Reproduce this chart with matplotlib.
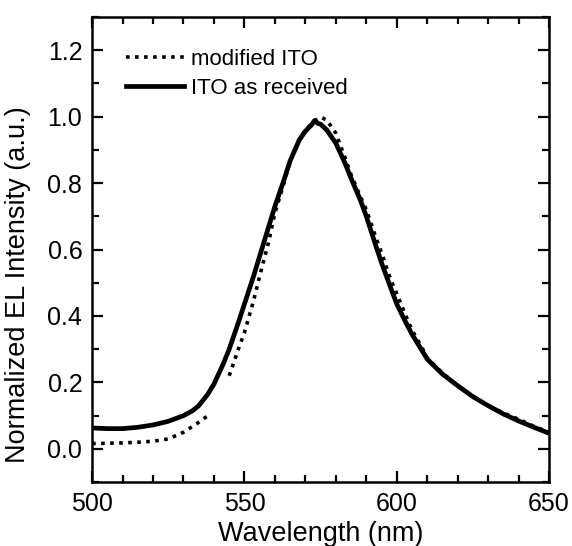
import numpy as np
import matplotlib
matplotlib.use("Agg")
import matplotlib.pyplot as plt
from matplotlib.ticker import MultipleLocator

plt.rcParams['font.family'] = ['Liberation Sans', 'DejaVu Sans']

# Data
wl_received = [500, 505, 510, 515, 520, 525, 530, 533, 535, 538, 540, 543, 545, 548, 550, 553,
               555, 558, 560, 563, 565, 568, 570, 572, 573, 574, 575, 577, 580, 583, 585, 588,
               590, 593, 595, 598, 600, 603, 605, 608, 610, 615, 620, 625, 630, 635, 640, 645, 650]
int_received = [0.063, 0.061, 0.061, 0.065, 0.072, 0.083, 0.10, 0.115, 0.13, 0.165, 0.195, 0.255,
                0.30, 0.38, 0.436, 0.52, 0.58, 0.67, 0.73, 0.81, 0.867, 0.93, 0.956, 0.975, 0.988,
                0.98, 0.977, 0.96, 0.92, 0.86, 0.814, 0.75, 0.70, 0.615, 0.56, 0.485, 0.436, 0.38,
                0.345, 0.30, 0.27, 0.225, 0.19, 0.157, 0.13, 0.105, 0.084, 0.065, 0.047]

wl_modified = [500, 505, 510, 515, 520, 525, 530, 535, 538, np.nan, 545, 548, 550, 553, 555, 558,
               560, 563, 565, 568, 570, 572, 573, 575, 577, 580, 583, 585, 588, 590, 593, 595,
               598, 600, 603, 605, 608, 610, 615, 620, 625, 630, 635, 640, 645, 650]
int_modified = [0.016, 0.017, 0.018, 0.02, 0.023, 0.03, 0.05, 0.08, 0.10, np.nan, 0.22, 0.30, 0.35,
                0.446, 0.52, 0.625, 0.71, 0.80, 0.867, 0.93, 0.96, 0.978, 0.987, 0.998, 0.99,
                0.95, 0.877, 0.825, 0.76, 0.72, 0.64, 0.59, 0.51, 0.467, 0.40, 0.357, 0.31, 0.273,
                0.228, 0.19, 0.158, 0.13, 0.108, 0.089, 0.068, 0.05]

fig = plt.figure(figsize=(5.72, 5.46), dpi=100)
ax = fig.add_axes([0.161, 0.117, 0.799, 0.852])

ax.plot(wl_modified, int_modified, color='black', linestyle=(0, (1, 1.5)), linewidth=2.6,
        label='modified ITO')
ax.plot(wl_received, int_received, color='black', linestyle='-', linewidth=3.4,
        solid_joinstyle='round', label='ITO as received')

ax.set_xlim(500, 650)
ax.set_ylim(-0.1, 1.3)
ax.xaxis.set_major_locator(MultipleLocator(50))
ax.xaxis.set_minor_locator(MultipleLocator(10))
ax.yaxis.set_minor_locator(MultipleLocator(0.1))
ax.set_yticks([0.0, 0.2, 0.4, 0.6, 0.8, 1.0, 1.2])
ax.set_yticklabels(['0.0', '0.2', '0.4', '0.6', '0.8', '1.0', '1.2'])

ax.tick_params(which='both', direction='in', top=True, right=True, width=1.6, labelsize=18)
ax.tick_params(which='major', length=8, pad=7)
ax.tick_params(which='minor', length=5)
for s in ax.spines.values():
    s.set_linewidth(1.8)

ax.set_xlabel('Wavelength (nm)', fontsize=19.5, labelpad=4)
ax.set_ylabel('Normalized EL Intensity (a.u.)', fontsize=19.5)
ax.yaxis.set_label_coords(-0.134, 0.424)

leg = ax.legend(loc='upper left', bbox_to_anchor=(0.055, 0.95), frameon=False, fontsize=16,
                handlelength=2.6, handletextpad=0.3, labelspacing=0.35, borderaxespad=0)

fig.savefig('out.png', dpi=100)
